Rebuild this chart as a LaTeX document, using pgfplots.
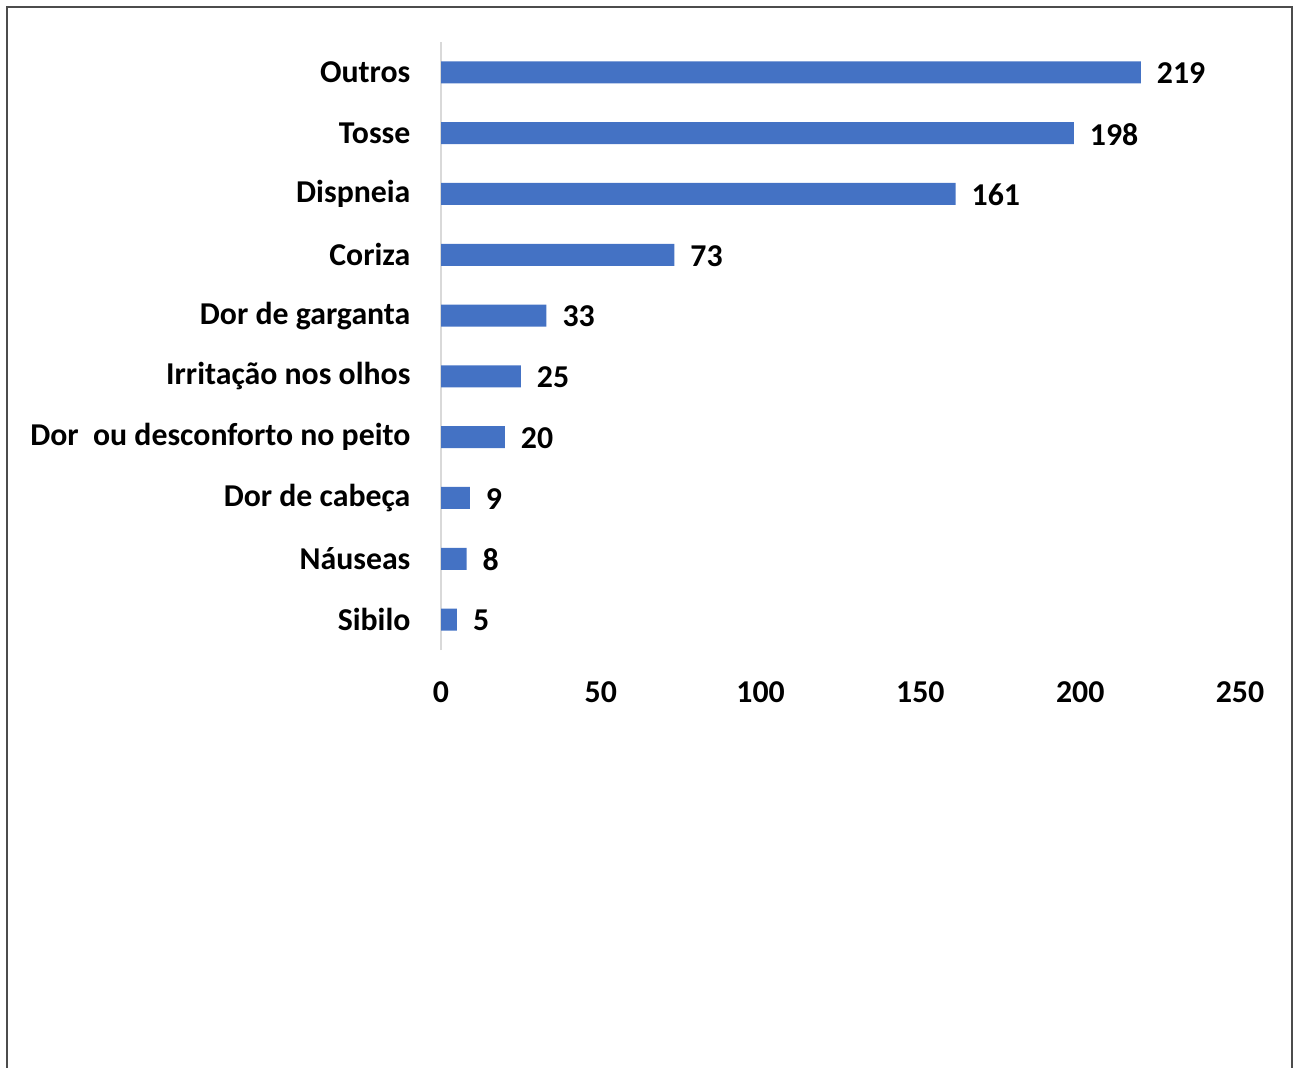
\documentclass[border=0pt]{standalone}
\usepackage{pgfplots}
\pgfplotsset{compat=1.18}
\usepackage{fontspec}
\setmainfont{Carlito}
\definecolor{barblue}{HTML}{4472C4}
\begin{document}
\begin{tikzpicture}
\path[use as bounding box] (0,0) rectangle (647pt,-534pt);
\draw[line width=0.9pt, black!70] (3.5pt,-540pt) -- (3.5pt,-3.5pt) -- (646pt,-3.5pt) -- (646pt,-540pt);
\begin{axis}[
  at={(220.5pt,-325pt)}, anchor=south west,
  scale only axis, width=399.5pt, height=304pt,
  xmin=0, xmax=250, ymin=-0.5, ymax=9.5, enlargelimits=false,
  xbar, bar width=11pt,
  axis lines*=left,
  x axis line style={draw=none},
  y axis line style={draw=black!15, line width=0.8pt},
  tick style={draw=none},
  xtick={0,50,...,250},
  ytick={0,...,9},
  yticklabels={Sibilo,Náuseas,Dor de cabeça,Dor\ \ ou desconforto no peito,Irritação nos olhos,Dor de garganta,Coriza,Dispneia,Tosse,Outros},
  /pgf/number format/assume math mode=true,
  ticklabel style={font=\bfseries\fontsize{15.9}{18}\selectfont, text=black},
  xticklabel style={yshift=-12.5pt},
  yticklabel style={xshift=-7.5pt},
  nodes near coords,
  nodes near coords style={font=\bfseries\fontsize{15.9}{18}\selectfont, text=black, xshift=4.5pt, yshift=-0.5pt},
]
\addplot[fill=barblue, draw=none] coordinates {
(5,0) (8,1) (9,2) (20,3) (25,4) (33,5) (73,6) (161,7) (198,8) (219,9)
};
\end{axis}
\end{tikzpicture}
\end{document}
